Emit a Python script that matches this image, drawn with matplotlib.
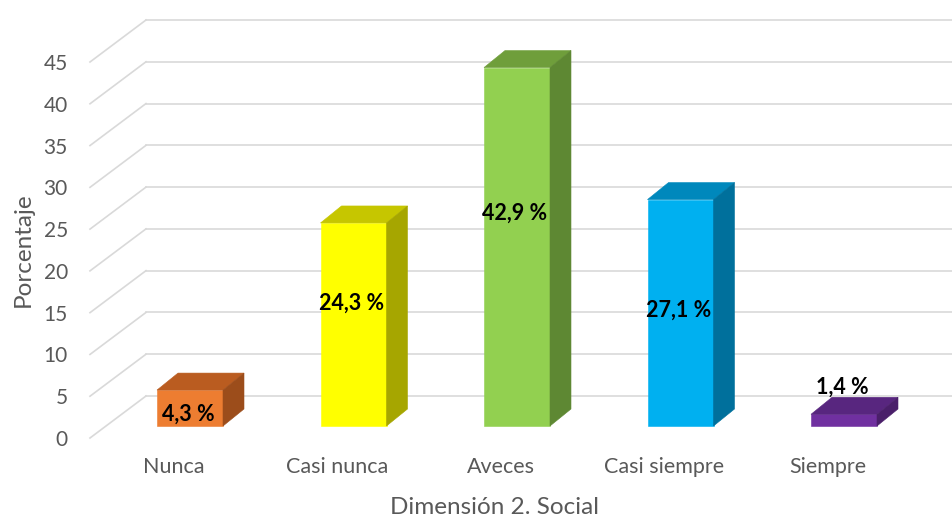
import matplotlib
matplotlib.use("Agg")
import matplotlib.pyplot as plt
from matplotlib.patches import Polygon

plt.rcParams['font.family'] = ['Lato', 'DejaVu Sans']

# datos
categorias = ['Nunca', 'Casi nunca', 'Aveces', 'Casi siempre', 'Siempre']
porcentajes = [4.3, 24.3, 42.9, 27.1, 1.4]
etiquetas = ['4,3 %', '24,3 %', '42,9 %', '27,1 %', '1,4 %']
yticks = [0, 5, 10, 15, 20, 25, 30, 35, 40, 45]

# colores: frente, tapa, lado
c_frente = ['#ED7D31', '#FFFF00', '#92D050', '#00B0F0', '#7030A0']
c_tapa = ['#BA5C20', '#C6C600', '#6F9E3B', '#0088BC', '#58267F']
c_lado = ['#9C4D1B', '#A6A600', '#5E8833', '#00709C', '#4A1F6A']
# altura de la etiqueta sobre la base de la barra (layout)
pos_etiqueta = [1.4, 14.7, 25.5, 13.9, 4.6]

W, H = 953, 519
fig = plt.figure(figsize=(W / 100, H / 100), dpi=100)
ax = fig.add_axes([90 / W, (H - 438) / H, 809 / W, 376 / H])
x0 = -(174 - 90) / 163.5
ax.set_xlim(x0, x0 + 809 / 163.5)
ax.set_ylim(0, 45)
for s in ax.spines.values():
    s.set_visible(False)
ax.patch.set_alpha(0)

# pixeles -> unidades de datos
p0 = ax.transData.transform((0, 0))
p1 = ax.transData.transform((1, 1))
sx, sy = p1[0] - p0[0], p1[1] - p0[1]
def px(dx, dy):
    return dx / sx, dy / sy

# rejilla 3D (pared del fondo)
gx, gy = px(56, 42)
xmin, xmax = ax.get_xlim()
for v in yticks:
    ax.plot([xmin, xmin + gx], [v, v + gy], color='#D9D9D9', lw=1.2, clip_on=False, zorder=1)
    ax.plot([xmin + gx, xmax + gx], [v + gy, v + gy], color='#D9D9D9', lw=1.2, clip_on=False, zorder=1)

# barras
bx, by = px(16, 12)
ddx, ddy = px(21, 17)
bw = 66 / sx
for i, v in enumerate(porcentajes):
    xl = i + bx - bw / 2
    xr = xl + bw
    top = by + v
    ax.bar(i + bx, v, width=bw, bottom=by, color=c_frente[i], edgecolor=c_frente[i],
           lw=0.4, zorder=3, clip_on=False)
    ax.add_patch(Polygon([(xl, top), (xr, top), (xr + ddx, top + ddy), (xl + ddx, top + ddy)],
                         closed=True, fc=c_tapa[i], ec=c_tapa[i], lw=0.4, zorder=3, clip_on=False))
    ax.add_patch(Polygon([(xr, by), (xr + ddx, by + ddy), (xr + ddx, top + ddy), (xr, top)],
                         closed=True, fc=c_lado[i], ec=c_lado[i], lw=0.4, zorder=3, clip_on=False))
    ax.text(i + bx - 2 / sx, by + pos_etiqueta[i], etiquetas[i], ha='center', va='center',
            fontsize=15.5, fontweight='bold', color='black', zorder=5)

ax.set_yticks(yticks)
ax.set_yticklabels([str(t) for t in yticks])
ax.set_xticks(range(len(categorias)))
ax.set_xticklabels(categorias)
ax.tick_params(axis='y', length=0, pad=16, labelsize=15, labelcolor='#595959')
ax.tick_params(axis='x', length=0, pad=14, labelsize=15.5, labelcolor='#595959')
ax.set_xlabel('Dimensión 2. Social', fontsize=17.5, color='#595959', labelpad=14)
ax.set_ylabel('Porcentaje', fontsize=17.5, color='#595959', labelpad=7)

fig.savefig('out.png', dpi=100)
